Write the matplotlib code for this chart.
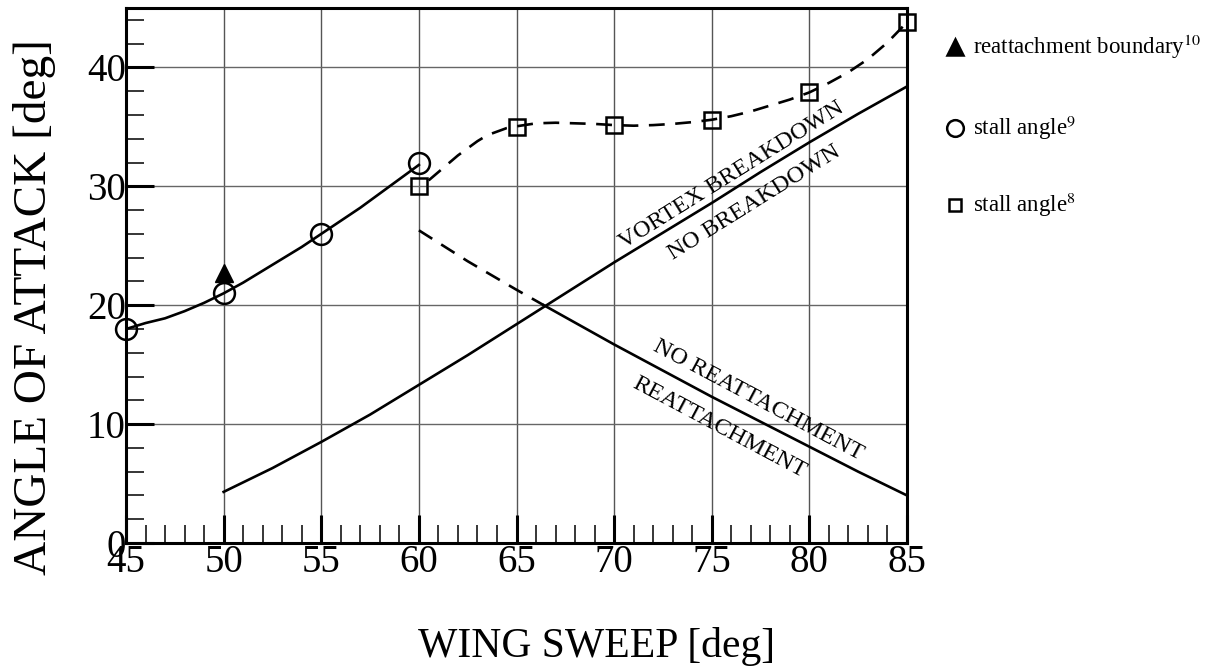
import numpy as np
import matplotlib
matplotlib.use("Agg")
import matplotlib.pyplot as plt
from matplotlib.lines import Line2D
from matplotlib.ticker import MultipleLocator

plt.rcParams['font.family'] = ['Liberation Serif', 'DejaVu Serif']
plt.rcParams['mathtext.fontset'] = 'stix'

# stall angle (ref 9), circles + solid fit
sweep_9 = [45, 50, 55, 60]
alpha_9 = [18.0, 21.0, 26.0, 32.0]
fit9_x = [45, 46, 47, 48, 49, 50, 51, 52, 53, 54, 55, 56, 57, 58, 59, 60]
fit9_y = [18.0, 18.5, 18.9, 19.5, 20.2, 21.0, 21.9, 22.9, 23.9, 24.9, 26.0,
          27.1, 28.2, 29.4, 30.6, 31.8]

# stall angle (ref 8), squares + dashed fit
sweep_8 = [60, 65, 70, 75, 80, 85]
alpha_8 = [30.0, 35.0, 35.2, 35.6, 37.9, 43.8]
fit8_x = [60.5, 61, 61.5, 62, 62.5, 63, 63.5, 64, 64.5, 65, 66, 67, 68, 69, 70,
          71, 72, 73, 74, 75, 76, 77, 78, 79, 80, 81, 82, 83, 84, 85]
fit8_y = [30.5, 31.2, 31.9, 32.6, 33.2, 33.8, 34.3, 34.6, 34.9, 35.05, 35.3,
          35.35, 35.3, 35.25, 35.15, 35.1, 35.15, 35.25, 35.4, 35.6, 35.9, 36.3,
          36.8, 37.3, 37.9, 38.7, 39.6, 40.7, 42.1, 43.8]

# reattachment boundary (ref 10)
sweep_10 = [50]
alpha_10 = [22.7]

# vortex breakdown boundary
vb_x = [50, 52.5, 55, 57.5, 60, 62.5, 65, 67.5, 70, 72.5, 75, 77.5, 80, 82.5, 85]
vb_y = [4.3, 6.3, 8.5, 10.8, 13.3, 15.8, 18.4, 21.0, 23.6, 26.1, 28.6, 31.2,
        33.7, 36.1, 38.4]

# reattachment boundary line (dashed part, then solid)
ra_dash_x = [60, 62.5, 65, 66.4]
ra_dash_y = [26.3, 23.7, 21.3, 20.0]
ra_solid_x = [66.4, 70, 72.5, 75, 77.5, 80, 82.5, 85]
ra_solid_y = [20.0, 16.7, 14.5, 12.3, 10.2, 8.1, 6.0, 4.0]

W, H = 1218, 669
fig = plt.figure(figsize=(W / 100, H / 100), dpi=100)
ax = fig.add_axes([126 / W, (H - 543) / H, (907 - 126) / W, (543 - 8) / H])

ax.set_xlim(45, 85)
ax.set_ylim(0, 45)
ax.xaxis.set_major_locator(MultipleLocator(5))
ax.xaxis.set_minor_locator(MultipleLocator(1))
ax.yaxis.set_major_locator(MultipleLocator(10))
ax.yaxis.set_minor_locator(MultipleLocator(2))
ax.tick_params(which='major', direction='in', length=20, width=2.2, labelsize=28, pad=1)
ax.tick_params(which='minor', direction='in', length=13, width=1.1)
ax.tick_params(axis='y', which='major', pad=0)
for s in ax.spines.values():
    s.set_linewidth(2.2)

for gx in [50, 55, 60, 65, 70, 75, 80]:
    ax.axvline(gx, color='#555555', lw=1.0, zorder=1)
for gy in [10, 20, 30, 40]:
    ax.axhline(gy, color='#666666', lw=1.0, zorder=1)

lw = 1.9
dash = (0, (6, 4))
ax.plot(fit9_x, fit9_y, color='black', lw=lw, zorder=3)
ax.plot(fit8_x, fit8_y, color='black', lw=lw, ls=dash, zorder=3)
ax.plot(vb_x, vb_y, color='black', lw=lw, zorder=3)
ax.plot(ra_dash_x, ra_dash_y, color='black', lw=lw, ls=dash, zorder=3)
ax.plot(ra_solid_x, ra_solid_y, color='black', lw=lw, zorder=3)

ax.plot(sweep_9, alpha_9, ls='none', marker='o', ms=15, mfc='none', mec='black', mew=1.8,
        zorder=4, clip_on=False)
ax.plot(sweep_8, alpha_8, ls='none', marker='s', ms=11, mfc='none', mec='black', mew=1.8,
        zorder=4, clip_on=False)
ax.plot(sweep_10, alpha_10, ls='none', marker='^', ms=13, color='black', zorder=4)

fig.text(597 / W, 1 - 657 / H, 'WING SWEEP [deg]', fontsize=30, ha='center', va='baseline')
fig.text(35 / W, 1 - 307 / H, 'ANGLE OF ATTACK [deg]', fontsize=34, rotation=90,
         ha='center', va='center')

# region labels along the boundaries
ax.text(76.0, 30.9, 'VORTEX BREAKDOWN', fontsize=17.5, rotation=32, ha='center', va='center')
ax.text(77.2, 28.6, 'NO BREAKDOWN', fontsize=17.5, rotation=32, ha='center', va='center')
ax.text(77.4, 12.0, 'NO REATTACHMENT', fontsize=17.5, rotation=-28, ha='center', va='center')
ax.text(75.4, 9.7, 'REATTACHMENT', fontsize=17.5, rotation=-28, ha='center', va='center')

# key on the right
legend_rows = [('^', 12, 'reattachment boundary$^{10}$', 47),
               ('o', 12, 'stall angle$^{9}$', 128),
               ('s', 9, 'stall angle$^{8}$', 205)]
for mk, ms, label, py in legend_rows:
    filled = mk == '^'
    fig.add_artist(Line2D([955 / W], [1 - py / H], marker=mk, ms=ms,
                          mfc='black' if filled else 'none', mec='black', mew=1.8,
                          transform=fig.transFigure))
    fig.text(973 / W, 1 - py / H, label, fontsize=16.5, va='center', ha='left')

fig.savefig('out.png', dpi=100)
